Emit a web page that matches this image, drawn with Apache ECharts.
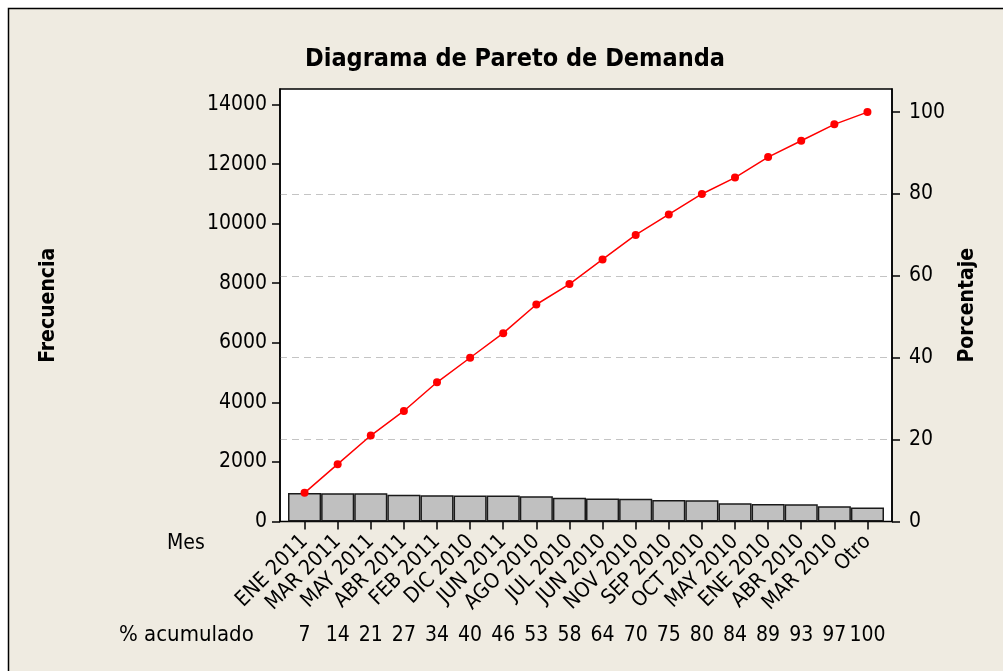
<!DOCTYPE html>
<html>
<head>
<meta charset="utf-8">
<title>Diagrama de Pareto de Demanda</title>
<script src="https://cdn.jsdelivr.net/npm/echarts@6/dist/echarts.min.js"></script>
<style>
  html, body { margin: 0; padding: 0; background: #fff; }
  #chart { width: 1003px; height: 671px; }
</style>
</head>
<body>
<div id="chart"></div>
<script>
// datos
const meses = ['ENE 2011', 'MAR 2011', 'MAY 2011', 'ABR 2011', 'FEB 2011', 'DIC 2010',
  'JUN 2011', 'AGO 2010', 'JUL 2010', 'JUN 2010', 'NOV 2010', 'SEP 2010', 'OCT 2010',
  'MAY 2010', 'ENE 2010', 'ABR 2010', 'MAR 2010', 'Otro'];
const frecuencia = [955, 950, 945, 895, 885, 875, 870, 850, 795, 770, 765, 725, 710, 610, 590, 575, 510, 470];
const pctAcumulado = [7, 14, 21, 27, 34, 40, 46, 53, 58, 64, 70, 75, 80, 84, 89, 93, 97, 100];
const ticksFrecuencia = [0, 2000, 4000, 6000, 8000, 10000, 12000, 14000];
const ticksPorcentaje = [0, 20, 40, 60, 80, 100];

const FONT = "'DejaVu Sans Condensed', 'DejaVu Sans', sans-serif";
const maxFrec = 14520;
const total = frecuencia.reduce((a, b) => a + b, 0);
const maxPct = maxFrec / total * 100; // 100% alineado con el total

const chart = echarts.init(document.getElementById('chart'), null, { renderer: 'canvas' });

const option = {
  backgroundColor: '#ffffff',
  animation: false,
  textStyle: { fontFamily: FONT },
  title: {
    text: 'Diagrama de Pareto de Demanda',
    left: 510,
    top: 42,
    textAlign: 'center',
    textStyle: { fontFamily: FONT, fontWeight: 'bold', fontSize: 25, color: '#000' }
  },
  graphic: [
    {
      type: 'rect', z: -10, silent: true,
      shape: { x: 8.5, y: 8.5, width: 1010, height: 700 },
      style: { fill: '#EFEBE1', stroke: '#000', lineWidth: 1.5 }
    },
    {
      type: 'text', left: 167, top: 533,
      style: { text: 'Mes', fontFamily: FONT, fontSize: 21, fill: '#000' }
    },
    {
      type: 'text', left: 119, top: 624,
      style: { text: '% acumulado', fontFamily: FONT, fontSize: 22, fill: '#000' }
    }
  ],
  grid: [
    // marco del gráfico
    { left: 280, right: 111, top: 89, bottom: 149.5, show: true,
      backgroundColor: '#ffffff', borderColor: '#000', borderWidth: 1.5 },
    // zona de barras
    { left: 288, right: 119, top: 89, bottom: 149.5 }
  ],
  xAxis: [
    { gridIndex: 0, type: 'value', show: false },
    {
      gridIndex: 1, type: 'category', data: meses,
      axisLine: { show: false },
      axisTick: { show: true, alignWithLabel: true, length: 8, lineStyle: { color: '#000', width: 1.5 } },
      axisLabel: { interval: 0, rotate: 45, margin: 17, fontFamily: FONT, fontSize: 21, color: '#000' }
    },
    {
      gridIndex: 1, type: 'category', position: 'bottom', data: pctAcumulado.map(String),
      axisLine: { show: false }, axisTick: { show: false },
      axisLabel: { interval: 0, margin: 104, fontFamily: FONT, fontSize: 21, color: '#000' }
    }
  ],
  yAxis: [
    {
      gridIndex: 0, type: 'value', min: 0, max: maxFrec, interval: 2000,
      name: 'Frecuencia', nameLocation: 'middle', nameGap: 221,
      nameTextStyle: { fontFamily: FONT, fontWeight: 'bold', fontSize: 21, color: '#000' },
      axisLine: { show: true, lineStyle: { color: '#000', width: 1.5 } },
      axisTick: { show: true, length: 8, customValues: ticksFrecuencia, lineStyle: { color: '#000', width: 1.5 } },
      axisLabel: { margin: 13, customValues: ticksFrecuencia, formatter: v => String(v),
        fontFamily: FONT, fontSize: 21, color: '#000' },
      splitLine: { show: false }
    },
    {
      gridIndex: 0, type: 'value', position: 'right', min: 0, max: maxPct, interval: 20,
      name: 'Porcentaje', nameLocation: 'middle', nameGap: 65, nameRotate: 90,
      nameTextStyle: { fontFamily: FONT, fontWeight: 'bold', fontSize: 21, color: '#000' },
      axisLine: { show: true, lineStyle: { color: '#000', width: 1.5 } },
      axisTick: { show: true, length: 8, customValues: ticksPorcentaje, lineStyle: { color: '#000', width: 1.5 } },
      axisLabel: { margin: 17, customValues: ticksPorcentaje, formatter: v => String(v),
        fontFamily: FONT, fontSize: 21, color: '#000' },
      splitLine: { show: true, showMinLine: false, showMaxLine: false,
        lineStyle: { color: '#C4C4C4', type: [7, 5], width: 1.2 } }
    },
    { gridIndex: 1, type: 'value', min: 0, max: maxFrec, show: false },
    { gridIndex: 1, type: 'value', min: 0, max: maxPct, show: false }
  ],
  series: [
    {
      name: 'Frecuencia', type: 'bar', xAxisIndex: 1, yAxisIndex: 2,
      data: frecuencia, barCategoryGap: '0%',
      itemStyle: { color: '#C0C0C0', borderColor: '#1a1a1a', borderWidth: 1.5 }
    },
    {
      name: '% acumulado', type: 'line', xAxisIndex: 1, yAxisIndex: 3,
      data: pctAcumulado, symbol: 'circle', symbolSize: 8,
      lineStyle: { color: '#FF0000', width: 1.5 },
      itemStyle: { color: '#FF0000' }
    }
  ]
};

chart.setOption(option);
</script>
</body>
</html>
